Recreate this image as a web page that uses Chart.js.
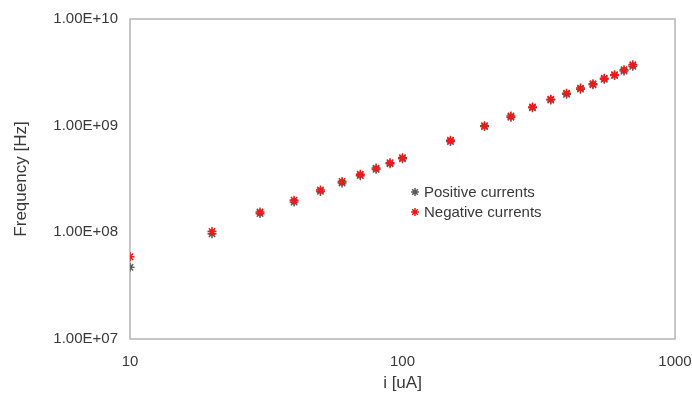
<!DOCTYPE html>
<html>
<head>
<meta charset="utf-8">
<script src="https://cdn.jsdelivr.net/npm/chart.js@4.4.1/dist/chart.umd.min.js"></script>
<style>
  html, body { margin: 0; padding: 0; background: #fff; }
  #wrap { width: 692px; height: 400px; }
</style>
</head>
<body>
<div id="wrap"><canvas id="myChart" width="692" height="400"></canvas></div>
<script>
// datos (corriente en uA, frecuencia en Hz)
const corrientes = [10, 20, 30, 40, 50, 60, 70, 80, 90, 100, 150, 200, 250, 300, 350, 400, 450, 500, 550, 600, 650, 700]
const positivas = [4.7e7, 0.97e8, 1.5e8, 1.92e8, 2.42e8, 2.9e8, 3.4e8, 3.9e8, 4.4e8, 4.9e8, 7.1e8, 0.98e9, 1.2e9, 1.47e9, 1.74e9, 1.97e9, 2.2e9, 2.42e9, 2.72e9, 2.95e9, 3.25e9, 3.6e9]
const negativas = [5.9e7, 1.02e8, 1.55e8, 2.0e8, 2.5e8, 3.0e8, 3.5e8, 4.0e8, 4.5e8, 5.0e8, 7.3e8, 1.0e9, 1.23e9, 1.5e9, 1.77e9, 2.01e9, 2.25e9, 2.47e9, 2.78e9, 3.0e9, 3.35e9, 3.72e9]
const ticksX = [10, 100, 1000]
const ticksY = [1e7, 1e8, 1e9, 1e10]
const nombres = ['Positive currents', 'Negative currents']
const colores = ['#5a5a5a', '#f01818']

const fuente = 'Liberation Sans, Arial, sans-serif'

const puntos = (ys) => corrientes.map((x, i) => ({ x: x, y: ys[i] }))

// caja gris alrededor del area del grafico
const caja = {
  id: 'caja',
  beforeDatasetsDraw(chart) {
    const a = chart.chartArea
    const ctx = chart.ctx
    ctx.save()
    ctx.strokeStyle = '#b4b4b4'
    ctx.lineWidth = 1.5
    ctx.strokeRect(a.left, a.top, a.right - a.left, a.bottom - a.top)
    ctx.restore()
  }
}

// leyenda dentro del area, como en el original
const leyenda = {
  id: 'leyenda',
  afterDraw(chart) {
    const ctx = chart.ctx
    const a = chart.chartArea
    const x0 = a.left + 285
    const y0 = a.top + 173
    ctx.save()
    ctx.font = '15px ' + fuente
    ctx.textBaseline = 'middle'
    nombres.forEach((n, i) => {
      const y = y0 + i * 20
      ctx.strokeStyle = colores[i]
      ctx.fillStyle = colores[i]
      ctx.lineWidth = 1.5
      Chart.helpers.drawPoint(ctx, { pointStyle: 'star', radius: 4, borderWidth: 1.5 }, x0, y)
      ctx.fillStyle = '#383838'
      ctx.fillText(n, x0 + 9, y + 1)
    })
    ctx.restore()
  }
}

const fmtY = (v) => {
  const e = Math.round(Math.log10(v))
  return '1.00E+' + (e < 10 ? '0' + e : e)
}

let ctx = document.getElementById('myChart').getContext('2d')
let myChart = new Chart(ctx, {
  type: 'scatter',
  data: {
    datasets: [
      {
        label: nombres[0],
        data: puntos(positivas),
        pointStyle: 'star',
        pointRadius: 4.5,
        borderWidth: 1.5,
        borderColor: colores[0],
        backgroundColor: colores[0],
        order: 2
      },
      {
        label: nombres[1],
        data: puntos(negativas),
        pointStyle: 'star',
        pointRadius: 4.5,
        borderWidth: 1.5,
        borderColor: colores[1],
        backgroundColor: colores[1],
        order: 1
      }
    ]
  },
  options: {
    responsive: false,
    animation: false,
    layout: { padding: { top: 19, right: 17, left: 0, bottom: 0 } },
    plugins: {
      legend: { display: false },
      tooltip: { enabled: false }
    },
    scales: {
      x: {
        type: 'logarithmic',
        min: 10,
        max: 1000,
        afterBuildTicks: (s) => { s.ticks = ticksX.map(v => ({ value: v })) },
        afterFit: (s) => { s.height = 61; s.paddingLeft = 0; s.paddingRight = 0 },
        ticks: {
          callback: (v) => String(v),
          color: '#383838',
          font: { family: fuente, size: 15 },
          maxRotation: 0,
          padding: 6
        },
        grid: { display: false },
        border: { display: false },
        title: {
          display: true,
          text: 'i [uA]',
          color: '#383838',
          font: { family: fuente, size: 17 },
          padding: { top: 5, bottom: 6 }
        }
      },
      y: {
        type: 'logarithmic',
        min: 1e7,
        max: 1e10,
        afterBuildTicks: (s) => { s.ticks = ticksY.map(v => ({ value: v })) },
        afterFit: (s) => { s.width = 130; s.paddingTop = 0; s.paddingBottom = 0 },
        ticks: {
          callback: (v) => fmtY(v),
          color: '#383838',
          font: { family: fuente, size: 15 },
          padding: 4
        },
        grid: { display: false },
        border: { display: false },
        title: {
          display: true,
          text: 'Frequency [Hz]',
          color: '#383838',
          font: { family: fuente, size: 17 },
          padding: { top: 11, bottom: 0 }
        }
      }
    }
  },
  plugins: [caja, leyenda]
})
</script>
</body>
</html>
